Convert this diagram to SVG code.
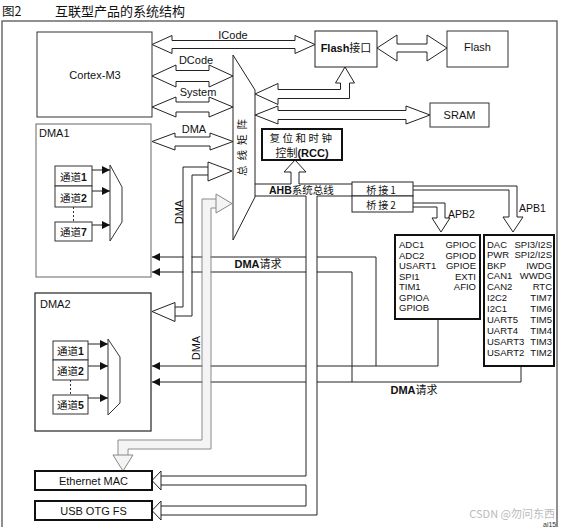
<svg xmlns="http://www.w3.org/2000/svg" width="561" height="527" viewBox="0 0 561 527">
<style>
text{font-family:"Liberation Sans","Noto Sans CJK SC",sans-serif;fill:#111}
.cjk{font-family:"Noto Sans CJK SC","Liberation Sans",sans-serif}
.b{font-weight:bold}
.box{fill:#fff;stroke:#333;stroke-width:1}
.tbox{fill:#fff;stroke:#111;stroke-width:2}
.arr{fill:#fff;stroke:#222;stroke-width:1;stroke-linejoin:miter}
.garr{fill:#f4f4f4;stroke:#888;stroke-width:1}
.ln{fill:none;stroke:#222;stroke-width:1}
.gln{fill:none;stroke:#888;stroke-width:1}
.lbl{font-size:11px}
.per{font-size:9.5px}
.ch{font-size:10.5px}
</style>
<defs>
<marker id="ah" markerWidth="8" markerHeight="8" refX="8" refY="4" orient="auto" markerUnits="userSpaceOnUse"><path d="M0,0 L8,4 L0,8 Z" fill="#111"/></marker>
</defs>

<!-- title -->
<text x="2" y="16" style="font-size:12.5px" class="cjk">图2</text>
<text x="55" y="16" style="font-size:13px" class="cjk">互联型产品的系统结构</text>

<!-- frame -->
<rect x="2" y="21" width="555" height="530" fill="none" stroke="#555" stroke-width="1.3"/>

<!-- connectors -->
<g id="connectors">
  <!-- DMA request lines -->
  <polyline class="ln" points="376,366 376,257 152,257" marker-end="url(#ah)"/>
  <polyline class="ln" points="352,382 352,272 152,272" marker-end="url(#ah)"/>
  <polyline class="ln" points="438,319 438,366 152,366" marker-end="url(#ah)"/>
  <polyline class="ln" points="521,366 521,382 152,382" marker-end="url(#ah)"/>

  <!-- ICode -->
  <polygon class="arr" points="152,44.5 172,35.5 172,40.5 295,40.5 295,35.5 315,44.5 295,53.5 295,48.5 172,48.5 172,53.5"/>
  <!-- DCode -->
  <polygon class="arr" points="152,76 176,65 176,70.5 209,70.5 209,65 233,76 209,87 209,81.5 176,81.5 176,87"/>
  <!-- System -->
  <polygon class="arr" points="152,107 176,97 176,102 209,102 209,97 233,107 209,117 209,112 176,112 176,117"/>
  <!-- DMA1 - matrix -->
  <polygon class="arr" points="152,141.5 175,133 175,137 210,137 210,133 233,141.5 210,150 210,146 175,146 175,150"/>
  <!-- Flash interface - Flash -->
  <polygon class="arr" points="377,48 397,35 397,44 427,44 427,35 447,48 427,61 427,52 397,52 397,61"/>
  <!-- matrix - Flash interface (bent) -->
  <polygon class="arr" points="255,94 278,83.5 278,89.5 340.5,89.5 340.5,83 335.5,83 345,67 354.5,83 349.5,83 349.5,98.5 278,98.5 278,104.5"/>
  <!-- matrix - SRAM -->
  <polygon class="arr" points="255,115 278,106 278,110.5 406,110.5 406,106 430,115 406,124 406,119.5 278,119.5 278,124"/>

  <!-- black DMA pipe (matrix <-> DMA2) -->
  <polyline points="208,171 187.5,171 187.5,311.5 175,311.5" fill="none" stroke="#fff" stroke-width="8"/>
  <polyline class="ln" points="208,167 183,167 183,307 175,307"/>
  <polyline class="ln" points="208,175 192,175 192,316 175,316"/>
  <polygon class="arr" points="208,162 232,171 208,181"/>
  <polygon class="arr" points="175,302.5 152,311.5 175,321.5"/>

  <!-- gray pipe (matrix -> Ethernet MAC) -->
  <polyline points="216,203.5 206.5,203.5 206.5,444.5 123,444.5 123,456" fill="none" stroke="#f4f4f4" stroke-width="8"/>
  <polyline class="gln" points="216,199 202,199 202,440 118,440 118,455"/>
  <polyline class="gln" points="216,208 211,208 211,449 128,449 128,455"/>
  <polygon class="garr" points="216,194 232,203.5 216,213"/>
  <polygon class="garr" points="113,455 133,455 123,471"/>

  <!-- AHB band -->
  <rect x="255" y="184" width="97" height="12" fill="#fff"/>
  <polyline class="ln" points="255,184 291,184"/>
  <polyline class="ln" points="299,184 352,184"/>
  <polyline class="ln" points="255,196 306,196"/>
  <polyline class="ln" points="317,196 352,196"/>
  <!-- RCC up arrow -->
  <polyline class="arr" points="291,184 291,172 284,172 295,160 306,172 299,172 299,184"/>

  <!-- AHB pipe to Ethernet / USB -->
  <polygon points="306,196 317,196 317,515 161,515 161,506 306,506 306,485 161,485 161,476 306,476" fill="#fff"/>
  <polyline class="ln" points="306,196 306,476 161,476"/>
  <polyline class="ln" points="317,196 317,515 161,515"/>
  <polyline class="ln" points="161,485 306,485 306,506 161,506"/>
  <polygon class="arr" points="161,471 152,480.5 161,490"/>
  <polygon class="arr" points="161,501 152,510.5 161,520"/>

  <!-- APB1 -->
  <polyline class="arr" points="413,186 517,186 517,217 523,217 513,232 503,217 509,217 509,190 413,190"/>
  <!-- APB2 -->
  <polyline class="arr" points="413,203 445,203 445,218 450,218 441,232 432,218 437,218 437,207 413,207"/>
</g>

<!-- labels on connectors -->
<text x="233" y="39" class="lbl" text-anchor="middle">ICode</text>
<text x="196" y="64" class="lbl" text-anchor="middle">DCode</text>
<text x="198" y="96" class="lbl" text-anchor="middle">System</text>
<text x="194" y="133" class="lbl" text-anchor="middle">DMA</text>
<text x="183" y="212" class="lbl" text-anchor="middle" transform="rotate(-90 183 212)">DMA</text>
<text x="200" y="348" class="lbl" text-anchor="middle" transform="rotate(-90 200 348)">DMA</text>
<text x="258" y="268" class="lbl" text-anchor="middle"><tspan class="b">DMA</tspan><tspan class="cjk">请求</tspan></text>
<text x="414" y="394" class="lbl" text-anchor="middle"><tspan class="b">DMA</tspan><tspan class="cjk">请求</tspan></text>
<text x="269" y="194" style="font-size:10.5px"><tspan class="b">AHB</tspan><tspan class="cjk">系统总线</tspan></text>
<text x="519" y="212" style="font-size:10.5px">APB1</text>
<text x="448" y="218" style="font-size:10.5px">APB2</text>

<!-- nodes -->
<g id="cortex">
  <rect x="37" y="32" width="115" height="85" class="box"/>
  <text x="95" y="79" class="lbl" text-anchor="middle">Cortex-M3</text>
</g>

<g id="busmatrix">
  <polygon points="233,55 255,90 255,197 233,240" fill="#fff" stroke="#222" stroke-width="1"/>
  <text x="241" y="145" class="cjk" style="font-size:10.5px;letter-spacing:5px" text-anchor="middle" dominant-baseline="central" transform="rotate(-90 241 145)">总线矩阵</text>
</g>

<g id="flashif">
  <rect x="315" y="31" width="62" height="36" fill="#fff" stroke="#222" stroke-width="1"/>
  <text x="346" y="52" class="lbl" text-anchor="middle"><tspan class="b">Flash</tspan><tspan class="cjk">接口</tspan></text>
</g>

<g id="flash">
  <rect x="447" y="31" width="61" height="36" class="box"/>
  <text x="477.5" y="51" class="lbl" text-anchor="middle">Flash</text>
</g>

<g id="sram">
  <rect x="430" y="103" width="59" height="24" class="box"/>
  <text x="459.5" y="119" class="lbl" text-anchor="middle">SRAM</text>
</g>

<g id="rcc">
  <rect x="262" y="129" width="80" height="31" class="tbox"/>
  <text x="302" y="142" class="cjk" style="font-size:10.5px;letter-spacing:2.5px" text-anchor="middle">复位和时钟</text>
  <text x="302" y="156.5" style="font-size:11px" text-anchor="middle"><tspan class="cjk">控制</tspan><tspan class="b">(RCC)</tspan></text>
</g>

<g id="bridge1">
  <rect x="352" y="182" width="61" height="14" fill="#fff" stroke="#222" stroke-width="1"/>
  <text x="382" y="193.5" class="cjk" style="font-size:10px;letter-spacing:2px" text-anchor="middle">桥接1</text>
</g>
<g id="bridge2">
  <rect x="352" y="196" width="61" height="16" fill="#fff" stroke="#222" stroke-width="1"/>
  <text x="382" y="208.5" class="cjk" style="font-size:10px;letter-spacing:2px" text-anchor="middle">桥接2</text>
</g>

<g id="apb2">
  <rect x="395" y="235" width="85" height="84" class="tbox"/>
  <text x="399" y="248" class="per">ADC1</text>
  <text x="399" y="258.5" class="per">ADC2</text>
  <text x="399" y="269" class="per">USART1</text>
  <text x="399" y="279.5" class="per">SPI1</text>
  <text x="399" y="290" class="per">TIM1</text>
  <text x="399" y="300.5" class="per">GPIOA</text>
  <text x="399" y="311" class="per">GPIOB</text>
  <text x="476" y="248" class="per" text-anchor="end">GPIOC</text>
  <text x="476" y="258.5" class="per" text-anchor="end">GPIOD</text>
  <text x="476" y="269" class="per" text-anchor="end">GPIOE</text>
  <text x="476" y="279.5" class="per" text-anchor="end">EXTI</text>
  <text x="476" y="290" class="per" text-anchor="end">AFIO</text>
</g>

<g id="apb1">
  <rect x="484" y="235" width="70" height="131" class="tbox"/>
  <text x="487" y="247.5" class="per">DAC</text>
  <text x="487" y="258" class="per">PWR</text>
  <text x="487" y="268.5" class="per">BKP</text>
  <text x="487" y="279" class="per">CAN1</text>
  <text x="487" y="289.5" class="per">CAN2</text>
  <text x="487" y="301" class="per">I2C2</text>
  <text x="487" y="312" class="per">I2C1</text>
  <text x="487" y="323" class="per">UART5</text>
  <text x="487" y="334" class="per">UART4</text>
  <text x="487" y="345" class="per">USART3</text>
  <text x="487" y="356" class="per">USART2</text>
  <text x="552" y="247.5" class="per" text-anchor="end">SPI3/I2S</text>
  <text x="552" y="258" class="per" text-anchor="end">SPI2/I2S</text>
  <text x="552" y="268.5" class="per" text-anchor="end">IWDG</text>
  <text x="552" y="279" class="per" text-anchor="end">WWDG</text>
  <text x="552" y="290" class="per" text-anchor="end">RTC</text>
  <text x="552" y="301" class="per" text-anchor="end">TIM7</text>
  <text x="552" y="312" class="per" text-anchor="end">TIM6</text>
  <text x="552" y="323" class="per" text-anchor="end">TIM5</text>
  <text x="552" y="334" class="per" text-anchor="end">TIM4</text>
  <text x="552" y="345" class="per" text-anchor="end">TIM3</text>
  <text x="552" y="355.5" class="per" text-anchor="end">TIM2</text>
</g>

<g id="dma1">
  <rect x="36" y="124" width="115" height="153" fill="#fff" stroke="#666" stroke-width="1"/>
  <text x="39" y="137" class="lbl">DMA1</text>
  <rect x="55" y="166" width="37" height="20" class="box"/>
  <rect x="55" y="186" width="37" height="21" class="box"/>
  <rect x="55" y="222" width="37" height="19" class="box"/>
  <text x="73.5" y="181" class="ch" text-anchor="middle"><tspan class="cjk">通道</tspan><tspan class="b">1</tspan></text>
  <text x="73.5" y="201.5" class="ch" text-anchor="middle"><tspan class="cjk">通道</tspan><tspan class="b">2</tspan></text>
  <text x="73.5" y="236" class="ch" text-anchor="middle"><tspan class="cjk">通道</tspan><tspan class="b">7</tspan></text>
  <line x1="73.5" y1="207" x2="73.5" y2="222" stroke="#333" stroke-dasharray="2,2"/>
  <line x1="92" y1="170" x2="110" y2="170" class="ln" marker-end="url(#ah)"/>
  <line x1="92" y1="191" x2="110" y2="191" class="ln" marker-end="url(#ah)"/>
  <line x1="92" y1="225" x2="110" y2="225" class="ln" marker-end="url(#ah)"/>
  <polygon points="110,165 122,187 122,222 110,241" fill="#fff" stroke="#333" stroke-width="1"/>
</g>

<g id="dma2">
  <rect x="35" y="293" width="116" height="138" fill="#fff" stroke="#222" stroke-width="1.2"/>
  <text x="40" y="308" class="lbl">DMA2</text>
  <rect x="53" y="341" width="35" height="19" class="box"/>
  <rect x="53" y="360" width="35" height="20" class="box"/>
  <rect x="53" y="395" width="35" height="19" class="box"/>
  <text x="70.5" y="355" class="ch" text-anchor="middle"><tspan class="cjk">通道</tspan><tspan class="b">1</tspan></text>
  <text x="70.5" y="375" class="ch" text-anchor="middle"><tspan class="cjk">通道</tspan><tspan class="b">2</tspan></text>
  <text x="70.5" y="409" class="ch" text-anchor="middle"><tspan class="cjk">通道</tspan><tspan class="b">5</tspan></text>
  <line x1="70.5" y1="380" x2="70.5" y2="395" stroke="#333" stroke-dasharray="2,2"/>
  <line x1="88" y1="344" x2="108" y2="344" class="ln" marker-end="url(#ah)"/>
  <line x1="88" y1="366" x2="108" y2="366" class="ln" marker-end="url(#ah)"/>
  <line x1="88" y1="398" x2="108" y2="398" class="ln" marker-end="url(#ah)"/>
  <polygon points="108,339 120,357 120,403 108,415" fill="#fff" stroke="#333" stroke-width="1"/>
</g>

<g id="ethernet">
  <rect x="35" y="471" width="117" height="19" class="tbox"/>
  <text x="93.5" y="484.5" class="lbl" text-anchor="middle">Ethernet MAC</text>
</g>

<g id="usb">
  <rect x="35" y="501" width="117" height="19" class="tbox"/>
  <text x="93.5" y="514.5" class="lbl" text-anchor="middle">USB OTG FS</text>
</g>

<text x="555" y="518" text-anchor="end" class="cjk" style="font-size:11px;fill:#bbb">CSDN @勿问东西</text>
<text x="543" y="527" style="font-size:7px;fill:#333">ai15</text>
</svg>
